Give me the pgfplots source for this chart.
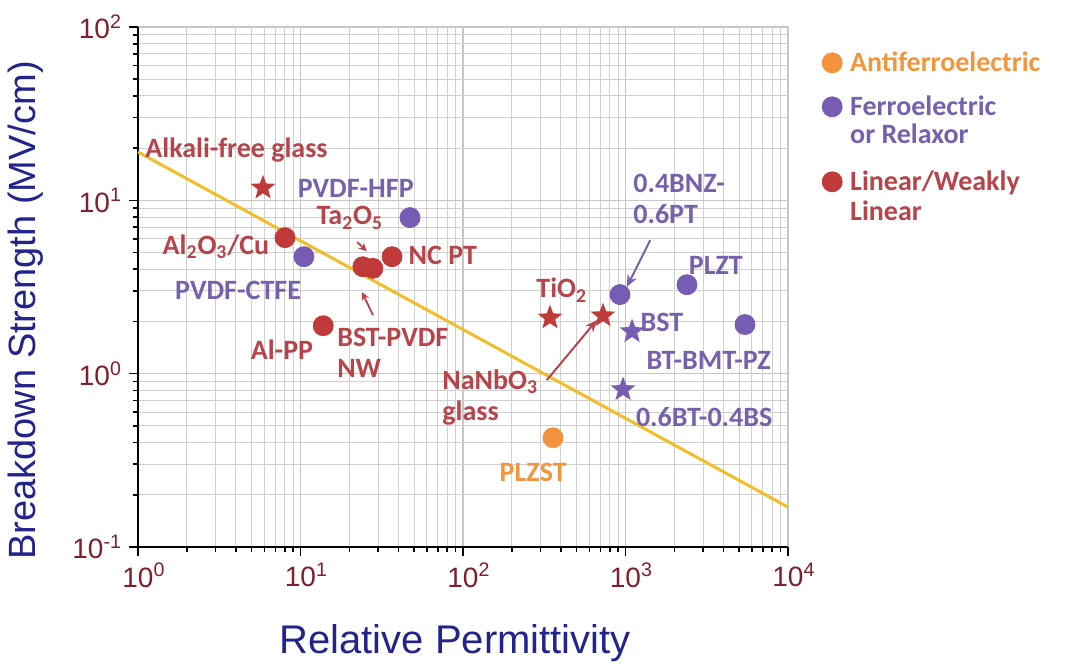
\documentclass[border=0pt]{standalone}
\usepackage{fontspec}
\setmainfont{Liberation Sans}
\newfontfamily\labfont{Carlito}
\usepackage{pgfplots}
\pgfplotsset{compat=1.18}
\usetikzlibrary{arrows.meta}

\definecolor{cOr}{RGB}{245,146,62}
\definecolor{cPu}{RGB}{118,92,178}
\definecolor{cRe}{RGB}{192,58,58}
\definecolor{tOr}{RGB}{240,150,60}
\definecolor{tPu}{RGB}{118,98,172}
\definecolor{tRe}{RGB}{182,68,74}
\definecolor{cYe}{RGB}{240,190,40}
\definecolor{tickc}{RGB}{128,30,45}
\definecolor{navyc}{RGB}{35,35,140}
\definecolor{gridmaj}{RGB}{198,198,198}
\definecolor{gridmin}{RGB}{208,208,208}

\pgfdeclareplotmark{fstar}{%
  \pgfpathmoveto{\pgfpointpolar{90}{\pgfplotmarksize}}%
  \pgfpathlineto{\pgfpointpolar{126}{0.42\pgfplotmarksize}}%
  \pgfpathlineto{\pgfpointpolar{162}{\pgfplotmarksize}}%
  \pgfpathlineto{\pgfpointpolar{198}{0.42\pgfplotmarksize}}%
  \pgfpathlineto{\pgfpointpolar{234}{\pgfplotmarksize}}%
  \pgfpathlineto{\pgfpointpolar{270}{0.42\pgfplotmarksize}}%
  \pgfpathlineto{\pgfpointpolar{306}{\pgfplotmarksize}}%
  \pgfpathlineto{\pgfpointpolar{342}{0.42\pgfplotmarksize}}%
  \pgfpathlineto{\pgfpointpolar{18}{\pgfplotmarksize}}%
  \pgfpathlineto{\pgfpointpolar{54}{0.42\pgfplotmarksize}}%
  \pgfpathclose
  \pgfusepathqfill
}

\tikzset{lab/.style={font=\labfont\bfseries\fontsize{14}{15.5}\selectfont, inner sep=0pt, align=left}}

\begin{document}
\begin{tikzpicture}
\begin{axis}[
  scale only axis, width=325pt, height=260pt,
  xmode=log, ymode=log,
  xmin=1, xmax=10000, ymin=0.1, ymax=100,
  axis x line=bottom, axis y line=left,
  axis line style={-, line width=1pt, black},
  tick align=outside,
  major tick length=4.5pt, minor tick length=2.5pt,
  every tick/.style={black, line width=0.8pt},
  grid=both,
  major grid style={gridmaj, line width=0.55pt},
  minor grid style={gridmin, line width=0.5pt},
  xtick={1,10,100,1000,10000},
  xticklabels={10\rlap{\textsuperscript{0}},10\rlap{\textsuperscript{1}},10\rlap{\textsuperscript{2}},10\rlap{\textsuperscript{3}},10\rlap{\textsuperscript{4}}},
  ytick={0.1,1,10,100},
  yticklabels={10\textsuperscript{-1},10\textsuperscript{0},10\textsuperscript{1},10\textsuperscript{2}},
  tick label style={font=\fontsize{14}{16}\selectfont, text=tickc},
  xlabel={Relative Permittivity},
  ylabel={Breakdown Strength (MV/cm)},
  xlabel style={font=\fontsize{20}{22}\selectfont, text=navyc, at={(rel axis cs:0.488,-0.1846)}, anchor=center},
  ylabel style={font=\fontsize{19}{21}\selectfont, text=navyc, at={(rel axis cs:-0.1723,0.455)}, anchor=center, rotate=0},
  clip=false,
  legend image code/.code={\draw[#1] plot coordinates {(0pt,4.5pt)};},
  legend style={at={(rel axis cs:1.052,0.953)}, anchor=north west, draw=none, fill=none,
    font=\labfont\bfseries\fontsize{14}{14.5}\selectfont,
    column sep=4pt, row sep=0pt, inner sep=0pt,
    cells={anchor=base west},
    nodes={inner sep=0pt, text height=10pt, text depth=4pt}},
]
% Antiferroelectric
\addplot[only marks, mark=*, mark size=5pt, mark options={fill=cOr, draw=cOr}, forget plot]
  coordinates {(358,0.427)};
% Ferroelectric circles
\addplot[only marks, mark=*, mark size=5pt, mark options={fill=cPu, draw=cPu}, forget plot]
  coordinates {(47.2,7.95) (10.5,4.73) (925,2.86) (2390,3.26) (5436,1.92)};
% Ferroelectric stars
\addplot[only marks, mark=fstar, mark size=6.5pt, mark options={fill=cPu}, forget plot]
  coordinates {(1097,1.75) (966,0.81)};
% Linear circles
\addplot[only marks, mark=*, mark size=5pt, mark options={fill=cRe, draw=cRe}, forget plot]
  coordinates {(8.03,6.09) (24.2,4.14) (27.9,4.05) (36.6,4.73) (13.8,1.89)};
% Linear stars
\addplot[only marks, mark=fstar, mark size=6.5pt, mark options={fill=cRe}, forget plot]
  coordinates {(5.88,11.8) (343,2.10) (727,2.16)};
% Trend line
\addplot[cYe, line width=1.5pt, no marks, forget plot]
  coordinates {(1,19) (10000,0.17)};

% Legend
\addlegendimage{only marks, mark=*, mark size=5pt, mark options={fill=cOr, draw=cOr}}
\addlegendentry[text=tOr, text depth=12pt]{Antiferroelectric}
\addlegendimage{only marks, mark=*, mark size=5pt, mark options={fill=cPu, draw=cPu}}
\addlegendentry[text=tPu]{Ferroelectric}
\addlegendimage{empty legend}
\addlegendentry[text=tPu, text depth=13.5pt]{or Relaxor}
\addlegendimage{only marks, mark=*, mark size=5pt, mark options={fill=cRe, draw=cRe}}
\addlegendentry[text=tRe, text depth=5pt]{Linear/Weakly}
\addlegendimage{empty legend}
\addlegendentry[text=tRe]{Linear}

% Annotations
\node[lab, text=tRe, anchor=west] at (rel axis cs:0.0108,0.7635) {Alkali-free glass};
\node[lab, text=tPu] at (rel axis cs:0.335,0.690) {PVDF-HFP};
\node[lab, text=tRe] at (rel axis cs:0.326,0.633) {Ta\textsubscript{2}O\textsubscript{5}};
\draw[tRe, line width=0.9pt, -{Stealth[length=4pt,width=4pt]}] (rel axis cs:0.337,0.5865) -- (rel axis cs:0.352,0.569);
\node[lab, text=tRe] at (rel axis cs:0.120,0.577) {Al\textsubscript{2}O\textsubscript{3}/Cu};
\node[lab, text=tRe] at (rel axis cs:0.469,0.5615) {NC PT};
\node[lab, text=tPu] at (rel axis cs:0.154,0.494) {PVDF-CTFE};
\node[lab, text=tRe] at (rel axis cs:0.2215,0.379) {Al-PP};
\node[lab, text=tRe, anchor=north west] at (rel axis cs:0.306,0.421) {BST-PVDF\\NW};
\draw[tRe, line width=0.9pt, -{Stealth[length=4pt,width=4pt]}] (rel axis cs:0.3615,0.446) -- (rel axis cs:0.3446,0.490);
\node[lab, text=tRe, anchor=north west] at (rel axis cs:0.4677,0.342) {NaNbO\textsubscript{3}\\glass};
\draw[tRe, line width=1pt, -{Stealth[length=6pt,width=5pt]}] (rel axis cs:0.629,0.321) -- (rel axis cs:0.706,0.4365);
\node[lab, text=tRe] at (rel axis cs:0.652,0.494) {TiO\textsubscript{2}};
\node[lab, text=tPu, anchor=north west] at (rel axis cs:0.7615,0.717) {0.4BNZ-\\0.6PT};
\draw[tPu, line width=1pt, -{Stealth[length=6pt,width=5pt]}] (rel axis cs:0.788,0.590) -- (rel axis cs:0.752,0.500);
\node[lab, text=tPu] at (rel axis cs:0.889,0.542) {PLZT};
\node[lab, text=tPu] at (rel axis cs:0.806,0.4327) {BST};
\node[lab, text=tPu] at (rel axis cs:0.878,0.3596) {BT-BMT-PZ};
\node[lab, text=tPu] at (rel axis cs:0.871,0.250) {0.6BT-0.4BS};
\node[lab, text=tOr] at (rel axis cs:0.608,0.144) {PLZST};

\coordinate (bbSW) at (rel axis cs:-0.2123,-0.2269);
\coordinate (bbNE) at (rel axis cs:1.4277,1.0519);
\end{axis}
\pgfresetboundingbox
\path[use as bounding box] (bbSW) rectangle (bbNE);
\end{tikzpicture}
\end{document}
